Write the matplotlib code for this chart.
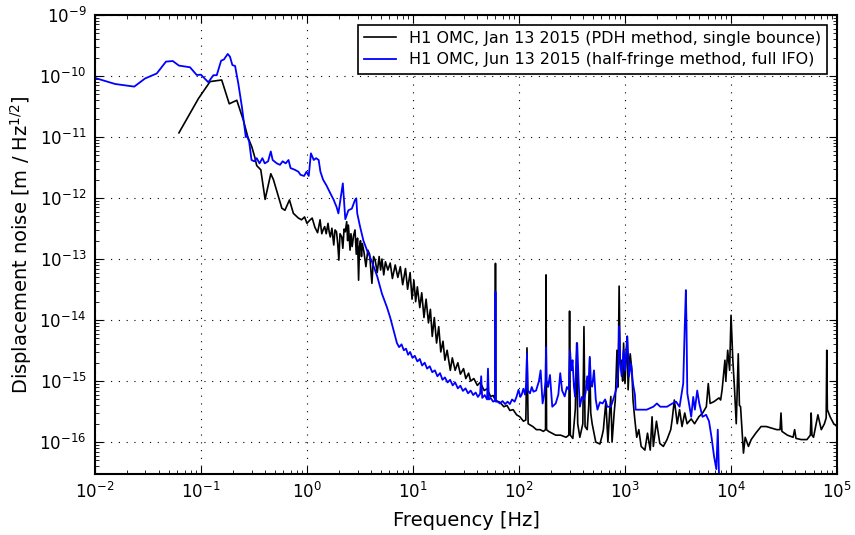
import matplotlib
matplotlib.use('Agg')
import matplotlib.pyplot as plt
from matplotlib.ticker import NullFormatter

"""
OMC displacement noise, Jan vs Jun 2015 (values read off the plot).
"""

# --- Jan 13 2015, PDH method, single bounce ---
jan_freq = [
    0.062, 0.095, 0.122, 0.157, 0.185, 0.218, 0.251, 0.277, 0.302, 0.324,
    0.336, 0.367, 0.403, 0.456, 0.483, 0.58, 0.62, 0.684, 0.745, 0.80,
    0.83, 0.89, 0.95, 1.0, 1.06, 1.12, 1.19, 1.26, 1.33, 1.38,
    1.43, 1.47, 1.52, 1.58, 1.62, 1.66, 1.72, 1.79, 1.84, 1.9,
    1.95, 2.0, 2.05, 2.13, 2.18, 2.24, 2.3, 2.37, 2.42, 2.46,
    2.55, 2.6, 2.67, 2.75, 2.84, 2.92, 3.0, 3.07, 3.13, 3.2,
    3.27, 3.33, 3.45, 3.6, 3.75, 3.9, 4.0, 4.1, 4.25, 4.4,
    4.6, 4.8, 4.95, 5.1, 5.3, 5.5, 5.8, 6.1, 6.4, 6.8,
    7.2, 7.6, 8.0, 8.5, 8.9, 9.4, 9.8, 10.2, 10.6, 11.0,
    11.6, 12.1, 12.7, 13.3, 14.0, 14.6, 15.2, 15.9, 16.7, 17.5,
    18.3, 19.2, 20.0, 21.0, 22.5, 23.5, 25, 26.5, 28, 30,
    31.5, 33.5, 35, 37.5, 40.5, 43, 47, 50, 54, 57,
    59.5, 60, 60.5, 66, 72, 77, 82, 88, 95, 102,
    110, 116, 119, 122, 135, 146, 158, 170, 178, 180,
    182, 190, 205, 222, 247, 278, 295, 300, 305, 322,
    340, 350, 358, 375, 400, 410, 420, 440, 455, 465,
    475, 490, 530, 580, 610, 625, 660, 690, 715, 735,
    755, 790, 810, 840, 860, 880, 900, 930, 950, 970,
    1000, 1030, 1050, 1070, 1100, 1120, 1160, 1190, 1230, 1290,
    1350, 1420, 1540, 1630, 1730, 1800, 1850, 1980, 2130, 2300,
    2490, 2700, 2790, 2920, 3110, 3270, 3450, 3660, 3850, 4210,
    4530, 4970, 5400, 5850, 6100, 6350, 6900, 7700, 7980, 8240,
    8760, 8930, 9300, 9700, 10000, 10400, 10800, 11200, 11700, 12000,
    12300, 13100, 13600, 14600, 15500, 17100, 19200, 21500, 24000, 27000,
    29000, 29600, 30200, 34000, 38500, 39800, 41000, 46000, 52000, 56000,
    57000, 58000, 60000, 66000, 71000, 76000, 79000, 80000, 81000, 86000,
    93000, 100000,
]
jan_asd = [
    1.17e-11, 4.3e-11, 8.1e-11, 8.6e-11, 3.5e-11, 4.0e-11, 1.9e-11, 1.0e-11, 6.9e-12, 4.5e-12,
    3.4e-12, 2.9e-12, 9.5e-13, 2.5e-12, 2.0e-12, 6.8e-13, 6.3e-13, 9.3e-13, 5.6e-13, 5.0e-13,
    4.7e-13, 4.4e-13, 4.9e-13, 3.85e-13, 4.3e-13, 4.7e-13, 3.3e-13, 2.7e-13, 4.4e-13, 2.6e-13,
    3.1e-13, 3.4e-13, 2.6e-13, 3.85e-13, 2.8e-13, 2.3e-13, 3.2e-13, 1.7e-13, 3.0e-13, 2.8e-13,
    1.8e-13, 9.6e-14, 2.6e-13, 2.3e-13, 1.5e-13, 3.1e-13, 2.8e-13, 4.1e-13, 2.0e-13, 3.6e-13,
    1.4e-13, 2.6e-13, 1.6e-13, 2.4e-13, 3.0e-13, 1.2e-13, 2.2e-13, 4.5e-14, 1.6e-13, 2.0e-13,
    1.1e-13, 1.8e-13, 1.3e-13, 7.5e-14, 1.4e-13, 1.2e-13, 7.0e-14, 4.0e-14, 1.1e-13, 9.6e-14,
    6.0e-14, 1.1e-13, 6.6e-14, 1.0e-13, 5.5e-14, 9.0e-14, 6.6e-14, 8.6e-14, 4.8e-14, 8.0e-14,
    5.0e-14, 7.5e-14, 3.8e-14, 7.0e-14, 3.2e-14, 6.0e-14, 2.2e-14, 4.5e-14, 2.0e-14, 3.5e-14,
    1.6e-14, 2.8e-14, 1.1e-14, 2.2e-14, 9.0e-15, 1.5e-14, 5.4e-15, 1.1e-14, 4.2e-15, 7.8e-15,
    3.0e-15, 4.5e-15, 2.2e-15, 3.2e-15, 1.5e-15, 2.4e-15, 1.5e-15, 2.0e-15, 1.3e-15, 1.6e-15,
    1.1e-15, 1.35e-15, 1.0e-15, 1.1e-15, 8.5e-16, 9.5e-16, 7.0e-16, 7.5e-16, 5.6e-16, 5.8e-16,
    5.0e-16, 8.5e-14, 4.8e-16, 4.5e-16, 3.8e-16, 4.0e-16, 3.3e-16, 3.4e-16, 2.8e-16, 2.6e-16,
    2.2e-16, 2.3e-16, 3.5e-15, 2.0e-16, 1.8e-16, 1.6e-16, 1.6e-16, 1.5e-16, 1.6e-16, 5.5e-14,
    1.6e-16, 1.5e-16, 1.4e-16, 1.3e-16, 1.3e-16, 1.2e-16, 1.3e-16, 1.4e-14, 1.3e-16, 1.15e-16,
    3.5e-16, 4.2e-15, 2.0e-16, 1.2e-16, 2.0e-16, 7.8e-15, 1.8e-16, 1.6e-16, 4.0e-16, 2.4e-15,
    3.0e-16, 2.0e-16, 1.0e-16, 9.3e-17, 1.3e-16, 1.6e-16, 4.6e-16, 1.0e-16, 3.0e-16, 5.6e-16,
    1.0e-16, 3.0e-16, 4.9e-16, 3.2e-15, 8.0e-16, 3.6e-14, 2.0e-15, 2.2e-15, 1.0e-15, 4.2e-15,
    9.1e-16, 3.0e-15, 5.4e-15, 7.2e-16, 2.0e-15, 2.8e-15, 1.5e-15, 4.9e-16, 2.6e-16, 1.2e-16,
    1.6e-16, 8.5e-17, 7.4e-17, 1.4e-16, 7.4e-17, 2.6e-16, 8.5e-17, 2.2e-16, 9.5e-17, 8.5e-17,
    1.1e-16, 1.6e-16, 2.4e-16, 4.9e-16, 2.0e-16, 3.4e-16, 1.8e-16, 3.0e-16, 2.0e-16, 2.4e-16,
    2.0e-16, 2.6e-16, 3.0e-16, 3.8e-16, 9.1e-16, 4.3e-16, 4.6e-16, 5.3e-16, 4.9e-16, 7.2e-16,
    2.2e-15, 1.0e-15, 3.2e-15, 1.5e-15, 1.2e-14, 2.2e-15, 7.2e-16, 2.0e-16, 2.8e-15, 4.0e-16,
    3.8e-16, 6.6e-17, 1.2e-16, 8.5e-17, 1.1e-16, 1.4e-16, 1.8e-16, 1.8e-16, 1.7e-16, 1.6e-16,
    1.6e-16, 3.0e-16, 1.5e-16, 1.3e-16, 1.2e-16, 1.6e-16, 1.15e-16, 1.1e-16, 1.1e-16, 1.3e-16,
    3.0e-16, 1.3e-16, 1.2e-16, 2.8e-16, 1.6e-16, 2.0e-16, 2.5e-16, 3.2e-15, 3.4e-16, 2.6e-16,
    2.0e-16, 1.8e-16,
]

# --- Jun 13 2015, half-fringe method, full IFO ---
jun_freq = [
    0.01, 0.0155, 0.0235, 0.0297, 0.0383, 0.0468, 0.0542, 0.0621, 0.0789, 0.0912,
    0.1, 0.1174, 0.131, 0.141, 0.155, 0.165, 0.179, 0.188, 0.198, 0.21,
    0.225, 0.243, 0.265, 0.27, 0.285, 0.30, 0.318, 0.336, 0.357, 0.38,
    0.40, 0.43, 0.456, 0.475, 0.52, 0.557, 0.59, 0.63, 0.67, 0.70,
    0.77, 0.83, 0.87, 0.94, 0.99, 1.04, 1.09, 1.16, 1.22, 1.29,
    1.34, 1.42, 1.53, 1.66, 1.79, 1.83, 1.90, 1.98, 2.05, 2.18,
    2.3, 2.46, 2.65, 2.84, 2.92, 2.98, 3.17, 3.41, 3.68, 4.1,
    4.6, 5.1, 5.7, 6.1, 6.6, 7.06, 7.4, 7.8, 8.2, 8.6,
    9.0, 9.4, 9.9, 10.4, 11.0, 11.6, 12.2, 12.9, 13.6, 14.4,
    15.2, 16.1, 17.0, 18.0, 19.0, 20.0, 21.2, 22.4, 23.7, 25,
    26.5, 28, 29.6, 31.3, 33.1, 35, 37, 39, 41, 43,
    44, 45, 47.5, 50, 51, 52, 54, 57, 59.5, 60,
    60.5, 63, 66, 70, 74, 78, 82, 86, 91, 95,
    99, 103, 106, 110, 114, 117, 119, 121, 127, 132,
    137, 145, 154, 160, 167, 173, 178, 180, 182, 188,
    196, 206, 222, 235, 245, 255, 270, 283, 295, 303,
    312, 320, 330, 338, 354, 365, 375, 392, 410, 425,
    440, 452, 465, 478, 490, 510, 530, 550, 580, 614,
    650, 680, 735, 760, 790, 840, 865, 880, 900, 930,
    970, 1000, 1050, 1090, 1140, 1190, 1240, 1260, 1380, 1600,
    1850, 2000, 2150, 2490, 2800, 3030, 3270, 3540, 3660, 3750,
    3800, 3870, 4210, 4400, 4560, 4800, 5020, 5380, 5820, 6200,
    6550, 6920, 7270, 7500, 7700, 8000,
]
jun_asd = [
    9.3e-11, 7.4e-11, 6.7e-11, 9.1e-11, 1.1e-10, 1.72e-10, 1.76e-10, 1.48e-10, 1.39e-10, 1.04e-10,
    1.05e-10, 7.9e-11, 1.03e-10, 1.03e-10, 1.78e-10, 1.87e-10, 2.3e-10, 2.07e-10, 1.51e-10, 1.46e-10,
    7.6e-11, 3.2e-11, 1.0e-11, 1.08e-11, 8.4e-12, 4.2e-12, 4.0e-12, 4.5e-12, 3.7e-12, 4.5e-12,
    3.7e-12, 4.0e-12, 5.8e-12, 4.2e-12, 3.7e-12, 3.5e-12, 4.0e-12, 3.7e-12, 4.2e-12, 3.1e-12,
    2.9e-12, 2.7e-12, 2.4e-12, 2.3e-12, 2.7e-12, 2.3e-12, 5.4e-12, 4.2e-12, 4.5e-12, 4.2e-12,
    2.7e-12, 2.0e-12, 1.6e-12, 1.2e-12, 9.3e-13, 8.4e-13, 7.2e-13, 5.6e-13, 8.4e-13, 1.74e-12,
    4.5e-13, 6.3e-13, 6.7e-13, 9.3e-13, 9.9e-13, 5.6e-13, 3.4e-13, 2.0e-13, 1.4e-13, 9.1e-14,
    5.2e-14, 2.7e-14, 1.6e-14, 1.1e-14, 6.5e-15, 4.2e-15, 3.6e-15, 4.0e-15, 3.2e-15, 3.4e-15,
    2.7e-15, 3.0e-15, 2.4e-15, 2.6e-15, 2.1e-15, 2.3e-15, 1.8e-15, 2.0e-15, 1.6e-15, 1.75e-15,
    1.4e-15, 1.5e-15, 1.2e-15, 1.35e-15, 1.05e-15, 1.15e-15, 9.5e-16, 1.05e-15, 8.5e-16, 9.5e-16,
    7.6e-16, 8.4e-16, 6.9e-16, 7.6e-16, 6.3e-16, 7.0e-16, 5.9e-16, 6.5e-16, 5.5e-16, 6.2e-16,
    1.2e-15, 5.3e-16, 5.9e-16, 5.0e-16, 1.6e-15, 5.0e-16, 5.3e-16, 4.6e-16, 4.8e-16, 2.9e-14,
    4.6e-16, 4.6e-16, 4.3e-16, 4.7e-16, 4.2e-16, 4.6e-16, 4.2e-16, 5.0e-16, 4.6e-16, 5.6e-16,
    7.2e-16, 5.5e-16, 6.0e-16, 7.5e-16, 6.0e-16, 9.1e-16, 2.8e-15, 7.0e-16, 6.3e-16, 8.0e-16,
    6.7e-16, 7.0e-16, 9.9e-16, 1.5e-15, 4.3e-16, 6.0e-16, 1.0e-15, 3.6e-15, 1.0e-15, 8.0e-16,
    1.26e-15, 3.8e-16, 4.3e-16, 6.0e-16, 1.35e-15, 7.0e-16, 5.6e-16, 8.0e-16, 7.2e-16, 3.2e-15,
    1.5e-15, 2.2e-15, 8.0e-16, 5.6e-16, 4.2e-15, 1.0e-15, 3.8e-16, 5.5e-16, 4.9e-16, 6.5e-16,
    1.2e-15, 7.0e-16, 2.5e-15, 9.0e-16, 8.1e-16, 1.5e-15, 5.0e-16, 3.4e-16, 4.5e-16, 4.3e-16,
    5.0e-16, 3.8e-16, 3.8e-16, 4.5e-16, 5.6e-16, 8.1e-16, 1.5e-15, 7.8e-15, 2.0e-15, 1.2e-15,
    3.2e-15, 1.5e-15, 5.4e-15, 1.2e-15, 1.95e-15, 9.0e-16, 6.0e-16, 3.4e-16, 3.4e-16, 3.4e-16,
    3.8e-16, 4.3e-16, 3.8e-16, 3.8e-16, 4.3e-16, 4.6e-16, 3.8e-16, 9.1e-16, 7.8e-15, 3.1e-14,
    8.8e-15, 6.3e-16, 2.6e-16, 5.5e-16, 3.4e-16, 7.0e-16, 4.3e-16, 2.6e-16, 2.8e-16, 2.2e-16,
    1.2e-16, 5.8e-17, 3.6e-17, 1.6e-16, 3.0e-17, 1.0e-17,
]

labels = ['H1 OMC, Jan 13 2015 (PDH method, single bounce)',
          'H1 OMC, Jun 13 2015 (half-fringe method, full IFO)']
x_ticks = [1e-2, 1e-1, 1e0, 1e1, 1e2, 1e3, 1e4, 1e5]
y_ticks = [1e-16, 1e-15, 1e-14, 1e-13, 1e-12, 1e-11, 1e-10, 1e-9]

plt.rcParams['font.family'] = 'DejaVu Sans'
plt.rcParams['mathtext.default'] = 'regular'

fig = plt.figure(figsize=(8.55, 5.35), dpi=100)
ax = fig.add_axes([0.111, 0.114, 0.868, 0.858])

ax.loglog(jan_freq, jan_asd, color='k', lw=1.2, label=labels[0])
ax.loglog(jun_freq, jun_asd, color='b', lw=1.3, label=labels[1])

ax.set_xticks(x_ticks)
ax.set_yticks(y_ticks)
ax.set_xlim(1e-2, 1e5)
ax.set_ylim(3e-17, 1e-9)
ax.xaxis.set_minor_formatter(NullFormatter())
ax.yaxis.set_minor_formatter(NullFormatter())
ax.grid(True, which='major', color='k', linestyle=(0, (1, 6)), linewidth=0.8)
ax.tick_params(which='both', direction='in', top=True, right=True,
               labelsize=12, pad=6)
ax.tick_params(which='major', length=6)
ax.tick_params(which='minor', length=3)
for s in ax.spines.values():
    s.set_linewidth(1.5)

ax.set_xlabel('Frequency [Hz]', fontsize=14, labelpad=6)
ax.set_ylabel('Displacement noise [m / Hz$^{1/2}$]', fontsize=14, labelpad=4)

leg = ax.legend(loc='upper right', fontsize=11.5, fancybox=False, framealpha=1,
                edgecolor='k', borderaxespad=0.6, handlelength=2.0,
                borderpad=0.4, labelspacing=0.4)
leg.get_frame().set_linewidth(1.2)

fig.savefig('out.png', dpi=100)
